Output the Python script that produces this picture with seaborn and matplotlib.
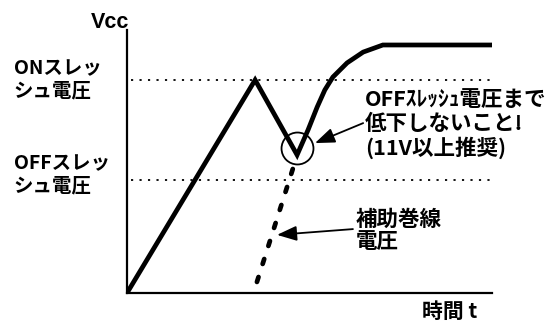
import pandas as pd
import matplotlib
matplotlib.use("Agg")
import matplotlib.pyplot as plt
import seaborn as sns

# Vcc waveform (time units 0..10, voltage units 0..10)
vcc_t = [0, 3.51, 4.66, 4.96, 5.21, 5.42, 5.64, 6.03, 6.47, 7.01, 10.0]
vcc_v = [0, 8.10, 5.25, 6.20, 7.07, 7.72, 8.21, 8.75, 9.16, 9.43, 9.43]

# auxiliary winding voltage (dashed)
aux_t = [3.56, 4.55]
aux_v = [0.42, 4.75]

on_level = 8.10
off_level = 4.30
dip_point = (4.66, 5.51)

on_label = "ONスレッ\nシュ電圧"
off_label = "OFFスレッ\nシュ電圧"
note_label = "OFFｽﾚｯｼｭ電圧まで\n低下しないこと!\n(11V以上推奨)"
aux_label = "補助巻線\n電圧"

sns.set_theme(style="white")
plt.rcParams["font.family"] = ["Noto Sans CJK JP", "DejaVu Sans"]

fig = plt.figure(figsize=(5.58, 3.23), dpi=100)
ax = fig.add_axes([127 / 558, 30 / 323, 365 / 558, 263 / 323])
ax.set_xlim(0, 10)
ax.set_ylim(0, 10)

main = pd.DataFrame({"t": vcc_t, "v": vcc_v})
aux = pd.DataFrame({"t": aux_t, "v": aux_v})

sns.lineplot(data=main, x="t", y="v", sort=False, color="black", lw=3.4,
             solid_joinstyle="miter", ax=ax)
sns.lineplot(data=aux, x="t", y="v", sort=False, color="black", lw=3.4,
             linestyle=(0, (1.1, 2.9)), dash_capstyle="round", ax=ax)

for lvl in (on_level, off_level):
    ax.plot([0.1, 10], [lvl, lvl], color="black", lw=1.3,
            linestyle=(0, (1.2, 3.5)))

ax.plot([dip_point[0]], [dip_point[1]], marker="o", ms=23, mfc="none",
        mec="black", mew=1.3)

for s in ("top", "right"):
    ax.spines[s].set_visible(False)
for s in ("left", "bottom"):
    ax.spines[s].set_color("black")
    ax.spines[s].set_linewidth(1.6)
ax.set_xticks([])
ax.set_yticks([])
ax.set_xlabel("")
ax.set_ylabel("")

bold = dict(fontweight="bold", color="black")
ax.text(-0.47, 10.30, "Vcc", ha="center", va="center", fontsize=15.5,
        family=["Liberation Sans", "DejaVu Sans"], **bold)
ax.text(-3.10, on_level, on_label, ha="left", va="center", fontsize=14,
        linespacing=1.25, **bold)
ax.text(-3.10, 4.49, off_label, ha="left", va="center", fontsize=14,
        linespacing=1.25, **bold)
ax.text(8.08, -0.72, "時間 t", ha="left", va="center", fontsize=15, **bold)

arrow = dict(arrowstyle="-|>,head_length=1.0,head_width=0.38", color="black",
             lw=1.3, shrinkA=0, shrinkB=0)
ax.annotate("", xy=(5.15, 5.70), xytext=(6.47, 6.46), arrowprops=arrow)
ax.text(6.52, 6.43, note_label, ha="left", va="center", fontsize=15.5,
        linespacing=1.15, **bold)

ax.annotate("", xy=(4.11, 2.21), xytext=(6.19, 2.43), arrowprops=arrow)
ax.text(6.27, 2.38, aux_label, ha="left", va="center", fontsize=15.5,
        linespacing=1.1, **bold)

fig.savefig("out.png", dpi=100, facecolor="white")
